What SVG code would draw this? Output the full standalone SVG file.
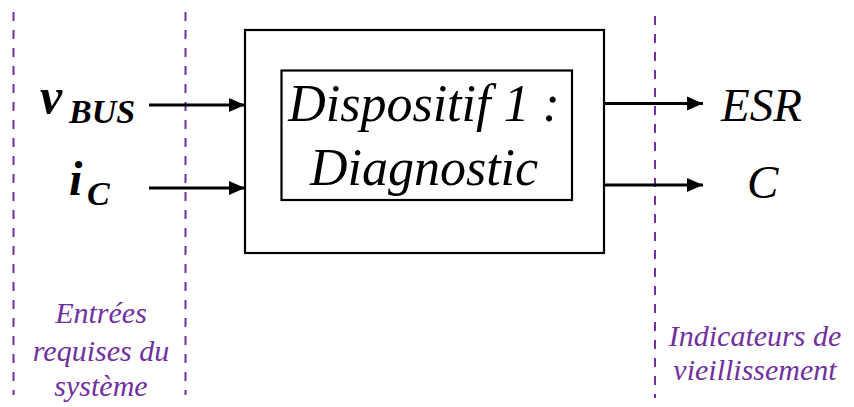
<svg xmlns="http://www.w3.org/2000/svg" width="854" height="407" viewBox="0 0 854 407">
<style>
.box{fill:none;stroke:#000;stroke-width:2.2}
.dash{stroke:#7030A0;stroke-width:2;stroke-dasharray:9 9;fill:none}
.arr{stroke:#000;stroke-width:3;fill:none}
.lab{font-family:"Liberation Serif",serif;font-style:italic;fill:#7030A0;font-size:30px;text-anchor:middle}
.main{font-family:"Liberation Serif",serif;font-style:italic;fill:#000;font-size:52px;text-anchor:middle}
.math{font-family:"Liberation Serif",serif;font-style:italic;fill:#000}
.mb{font-weight:bold}
</style>
<defs>
<marker id="ah" viewBox="0 0 16 16" refX="16" refY="8" markerWidth="16" markerHeight="16" markerUnits="userSpaceOnUse" orient="auto">
<path d="M0,1 L16,8 L0,15 Z" fill="#000"/>
</marker>
</defs>
<rect width="854" height="407" fill="#fff"/>
<g id="boundaries">
<line class="dash" x1="13.5" y1="12" x2="13.5" y2="395"/>
<line class="dash" x1="185.5" y1="12" x2="185.5" y2="395"/>
<line class="dash" x1="655" y1="16" x2="655" y2="398"/>
</g>
<g id="connectors">
<line class="arr" x1="149" y1="105" x2="245" y2="105" marker-end="url(#ah)"/>
<line class="arr" x1="149" y1="188" x2="245" y2="188" marker-end="url(#ah)"/>
<line class="arr" x1="604" y1="103.5" x2="703" y2="103.5" marker-end="url(#ah)"/>
<line class="arr" x1="604" y1="185" x2="703" y2="185" marker-end="url(#ah)"/>
</g>
<g id="device">
<rect class="box" x="245" y="30" width="359" height="223"/>
<rect class="box" x="281.5" y="70.5" width="290.5" height="129.5"/>
<text class="main" x="424" y="121">Dispositif 1 :</text>
<text class="main" x="424" y="185">Diagnostic</text>
</g>
<g id="input-vbus">
<text class="math mb" x="40" y="113" font-size="50">v</text>
<text class="math mb" x="69" y="123" font-size="34">BUS</text>
</g>
<g id="input-ic">
<text class="math mb" x="69" y="195" font-size="48">i</text>
<text class="math mb" x="87" y="205" font-size="34">C</text>
</g>
<g id="output-esr">
<text class="math" x="721" y="121" font-size="47">ESR</text>
</g>
<g id="output-c">
<text class="math" x="747" y="198" font-size="47">C</text>
</g>
<g id="label-inputs">
<text class="lab" x="101" y="323">Entrées</text>
<text class="lab" x="101" y="361">requises du</text>
<text class="lab" x="101" y="396">système</text>
</g>
<g id="label-outputs">
<text class="lab" x="755" y="346">Indicateurs de</text>
<text class="lab" x="755" y="380">vieillissement</text>
</g>
</svg>
